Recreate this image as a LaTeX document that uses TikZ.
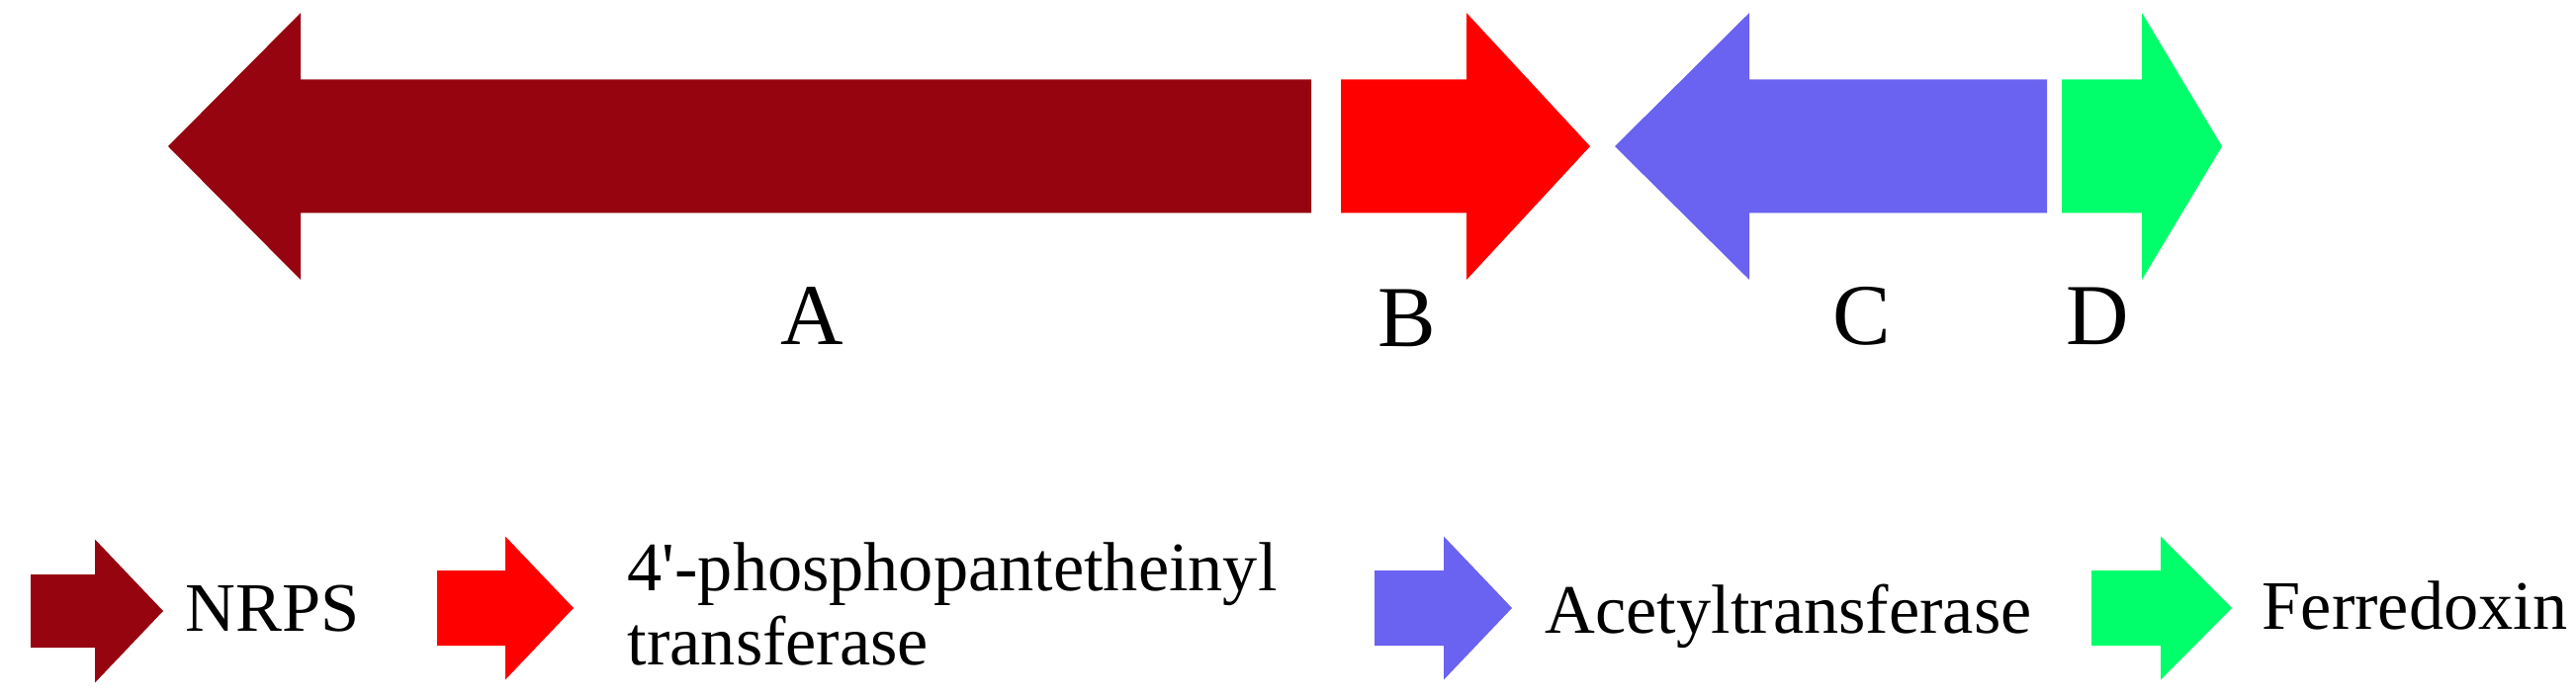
\documentclass[tikz,border=0pt]{standalone}
\usepackage{fontspec}
\setmainfont{Liberation Serif}
\usetikzlibrary{positioning}

\definecolor{nrpsred}{RGB}{150,5,15}
\definecolor{pptred}{RGB}{255,0,0}
\definecolor{acetblue}{RGB}{106,98,240}
\definecolor{ferrgreen}{RGB}{0,255,106}

% gene arrow: colour, tail x, head base x, tip x, centre y, half body, half head
\newcommand{\genearrow}[7]{%
  \fill[#1] (#2,#5+#6) -- (#3,#5+#6) -- (#3,#5+#7) -- (#4,#5)
    -- (#3,#5-#7) -- (#3,#5-#6) -- (#2,#5-#6) -- cycle;}

\begin{document}
\begin{tikzpicture}[
  genelabel/.style={inner sep=0pt,anchor=base,font=\fontsize{25}{30}\selectfont},
  legtext/.style={inner sep=0pt,anchor=base west,align=left,font=\fontsize{20}{21.3}\selectfont}]

\useasboundingbox (0,0) rectangle (26.05,7.07);

% gene cluster
\genearrow{nrpsred}{13.26}{3.04}{1.70}{5.59}{0.675}{1.35}
\genearrow{pptred}{13.56}{14.83}{16.08}{5.59}{0.675}{1.35}
\genearrow{acetblue}{20.70}{17.69}{16.33}{5.59}{0.675}{1.35}
\genearrow{ferrgreen}{20.85}{21.66}{22.47}{5.59}{0.675}{1.35}

% gene letters
\node[genelabel] (labA) at (8.21,3.58) {A};
\node[genelabel] (labB) at (14.23,3.56) {B};
\node[genelabel] (labC) at (18.83,3.59) {C};
\node[genelabel] (labD) at (21.21,3.59) {D};

% legend arrows
\genearrow{nrpsred}{0.31}{0.96}{1.65}{0.89}{0.37}{0.725}
\genearrow{pptred}{4.42}{5.11}{5.80}{0.92}{0.38}{0.725}
\genearrow{acetblue}{13.90}{14.60}{15.29}{0.92}{0.38}{0.725}
\genearrow{ferrgreen}{21.15}{21.85}{22.57}{0.92}{0.38}{0.725}

% legend text (base of a two-line node is its last line)
\node[legtext] (nrps) at (1.87,0.69) {NRPS};
\node[legtext] (ppt) at (6.34,0.35) {4\textquotesingle-phosphopantetheinyl\\transferase};
\node[legtext] (acet) at (15.62,0.67) {Acetyltransferase};
\node[legtext] (ferr) at (22.87,0.71) {Ferredoxin};

\end{tikzpicture}
\end{document}
